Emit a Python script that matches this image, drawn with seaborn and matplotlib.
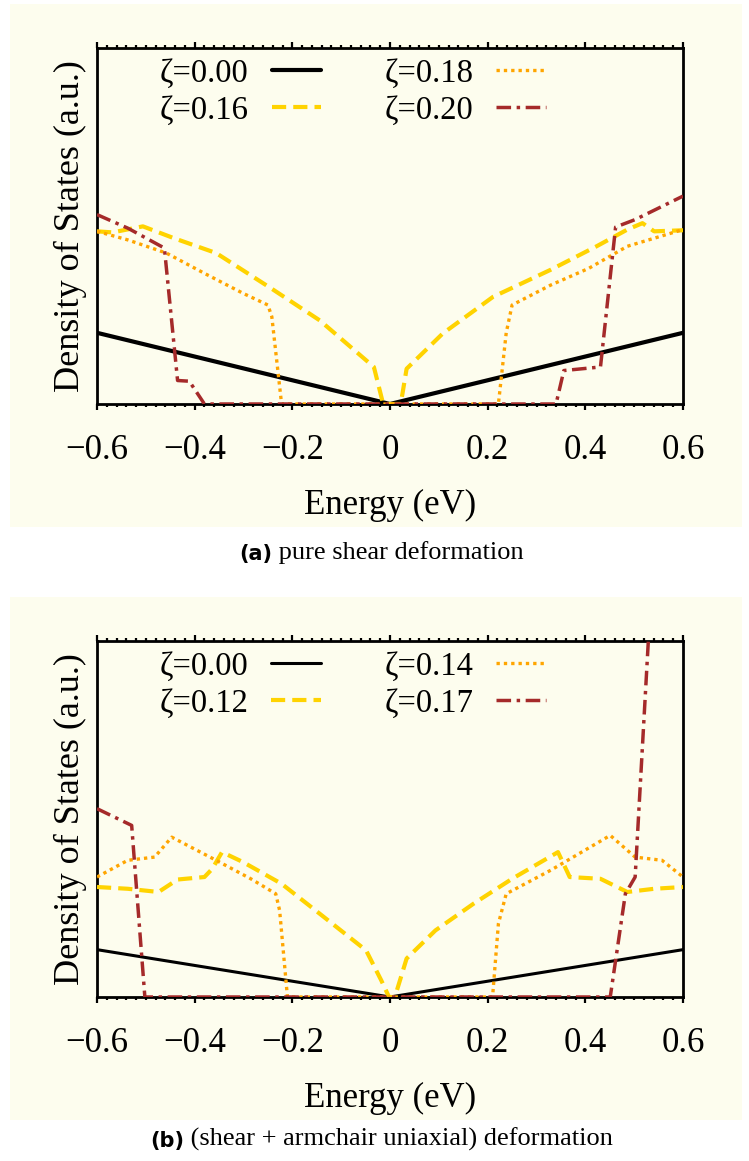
import matplotlib
matplotlib.use('Agg')
import matplotlib.pyplot as plt
import seaborn as sns
from matplotlib.patches import Rectangle
from matplotlib.ticker import FixedLocator, MultipleLocator

sns.set_theme(style='ticks')
plt.rcParams['font.family'] = ['Liberation Serif', 'DejaVu Serif']
plt.rcParams['axes.unicode_minus'] = True

CREAM = '#FDFDEE'

# ---------------- data ----------------
tick_vals = [-0.6, -0.4, -0.2, 0.0, 0.2, 0.4, 0.6]
tick_labels = ['\u22120.6', '\u22120.4', '\u22120.2', '0', '0.2', '0.4', '0.6']

# panel (a): pure shear
a_labels = ['\u03b6=0.00', '\u03b6=0.16', '\u03b6=0.18', '\u03b6=0.20']
a0_E = [-0.6, 0.0, 0.6]
a0_D = [0.200, 0.0, 0.200]
a1_E = [-0.6, -0.568, -0.506, -0.443, -0.356, -0.238, -0.144, -0.033, -0.014,
        0.022, 0.034, 0.108, 0.211, 0.329, 0.423, 0.486, 0.517, 0.541, 0.6]
a1_D = [0.485, 0.482, 0.499, 0.466, 0.424, 0.320, 0.235, 0.104, 0.0,
        0.0, 0.099, 0.198, 0.301, 0.377, 0.443, 0.490, 0.508, 0.485, 0.488]
a2_E = [-0.6, -0.537, -0.458, -0.380, -0.301, -0.250, -0.242, -0.222,
        0.222, 0.238, 0.250, 0.329, 0.407, 0.486, 0.6]
a2_D = [0.485, 0.461, 0.424, 0.367, 0.311, 0.278, 0.245, 0.0,
        0.0, 0.200, 0.278, 0.334, 0.381, 0.443, 0.490]
a3_E = [-0.6, -0.537, -0.462, -0.435, -0.411, -0.380, 0.340, 0.356, 0.431,
        0.462, 0.502, 0.6]
a3_D = [0.532, 0.494, 0.438, 0.066, 0.064, 0.0, 0.0, 0.094, 0.104,
        0.497, 0.518, 0.584]

# panel (b): shear + armchair uniaxial
b_labels = ['\u03b6=0.00', '\u03b6=0.12', '\u03b6=0.14', '\u03b6=0.17']
b0_E = [-0.6, 0.0, 0.6]
b0_D = [0.133, 0.0, 0.133]
b1_E = [-0.6, -0.537, -0.474, -0.435, -0.380, -0.364, -0.344, -0.301, -0.222,
        -0.144, -0.049, -0.018, -0.002, 0.010, 0.034, 0.093, 0.171, 0.250,
        0.344, 0.368, 0.431, 0.486, 0.541, 0.6]
b1_D = [0.309, 0.304, 0.295, 0.330, 0.337, 0.360, 0.407, 0.379, 0.318,
        0.234, 0.131, 0.047, 0.0, 0.0, 0.108, 0.187, 0.262, 0.332,
        0.407, 0.337, 0.332, 0.295, 0.304, 0.309]
b2_E = [-0.6, -0.537, -0.482, -0.447, -0.356, -0.285, -0.234, -0.226, -0.210,
        0.210, 0.222, 0.238, 0.329, 0.451, 0.502, 0.557, 0.6]
b2_D = [0.337, 0.384, 0.393, 0.449, 0.384, 0.332, 0.290, 0.243, 0.0,
        0.0, 0.206, 0.290, 0.356, 0.454, 0.393, 0.384, 0.337]
b3_E = [-0.6, -0.529, -0.502, 0.451, 0.482, 0.502, 0.540]
b3_D = [0.529, 0.482, 0.0, 0.0, 0.290, 0.337, 1.270]

colors = ['black', '#FFD300', '#FFA500', '#A52A2A']
styles = ['-', (0, (3.4, 1.7)), (0, (1.0, 1.2)), (0, (4.2, 1.6, 1.0, 1.6))]

# ---------------- figure ----------------
W, H = 749, 1161
fig = plt.figure(figsize=(W / 100, H / 100), dpi=100)
fig.patch.set_facecolor('white')

def px_rect(x0, y0, x1, y1):
    return [x0 / W, 1 - y1 / H, (x1 - x0) / W, (y1 - y0) / H]

# background layer axes for the cream panels and captions
bg = fig.add_axes([0, 0, 1, 1], zorder=-5)
bg.set_axis_off()
bg.set_xlim(0, 1)
bg.set_ylim(0, 1)
for (y0, y1) in [(4, 527), (597, 1120)]:
    r = px_rect(10, y0, 742, y1)
    bg.add_patch(Rectangle((r[0], r[1]), r[2], r[3], transform=fig.transFigure,
                           facecolor=CREAM, edgecolor='none'))

panels = [
    (px_rect(97, 48, 683, 404), [(a0_E, a0_D), (a1_E, a1_D), (a2_E, a2_D), (a3_E, a3_D)],
     a_labels, [3.0, 3.0, 2.4, 2.5]),
    (px_rect(97, 641, 683, 997), [(b0_E, b0_D), (b1_E, b1_D), (b2_E, b2_D), (b3_E, b3_D)],
     b_labels, [2.2, 3.0, 2.4, 2.5]),
]

for rect, series, labels, lws in panels:
    ax = fig.add_axes(rect)
    ax.set_facecolor(CREAM)
    handles = []
    for (E, D), lab, c, ls, lw in zip(series, labels, colors, styles, lws):
        sns.lineplot(x=E, y=D, ax=ax, color=c, linewidth=lw, linestyle=ls,
                     estimator=None, sort=False, label=lab, zorder=3)
        handles.append(ax.get_lines()[-1])
    ax.set_xlim(-0.6, 0.6)
    ax.set_ylim(0, 1)
    ax.set_yticks([])
    ax.xaxis.set_major_locator(FixedLocator(tick_vals))
    ax.set_xticklabels(tick_labels)
    ax.xaxis.set_minor_locator(MultipleLocator(0.02))
    ax.tick_params(axis='x', which='major', direction='out', length=4.5, width=1.6,
                   top=True, bottom=True, labeltop=False, labelsize=25, pad=17,
                   color='black', labelcolor='black')
    ax.tick_params(axis='x', which='minor', direction='out', length=2.2, width=1.6,
                   top=True, bottom=True, color='black')
    for s in ax.spines.values():
        s.set_visible(True)
        s.set_linewidth(2.0)
        s.set_color('black')
        s.set_zorder(2.5)
    ax.set_xlabel('Energy (eV)', fontsize=25, labelpad=16, color='black')
    ax.set_ylabel('Density of States (a.u.)', fontsize=26, labelpad=7, color='black')
    leg = ax.legend(handles=handles, labels=labels, ncol=2, loc='upper left',
                    bbox_to_anchor=(0.107, 0.972), frameon=False, markerfirst=False,
                    fontsize=23.5, handlelength=1.53, handletextpad=0.7,
                    columnspacing=1.93, labelspacing=0.2, borderpad=0,
                    borderaxespad=0)
    for t in leg.get_texts():
        t.set_color('black')

# captions
t1 = bg.text(239 / W, 1 - 560 / H, '(a)', fontsize=15, fontweight='bold',
             family='DejaVu Sans', va='baseline', ha='left', color='black',
             transform=fig.transFigure)
bg.annotate(' pure shear deformation', xy=(1, 0), xycoords=t1, va='bottom',
            ha='left', fontsize=19, color='black', annotation_clip=False)
t2 = bg.text(150 / W, 1 - 1147 / H, '(b)', fontsize=15, fontweight='bold',
             family='DejaVu Sans', va='baseline', ha='left', color='black',
             transform=fig.transFigure)
bg.annotate(' (shear + armchair uniaxial) deformation', xy=(1, 0), xycoords=t2,
            va='bottom', ha='left', fontsize=19, color='black',
            annotation_clip=False)

fig.savefig('out.png', dpi=100, facecolor='white')
